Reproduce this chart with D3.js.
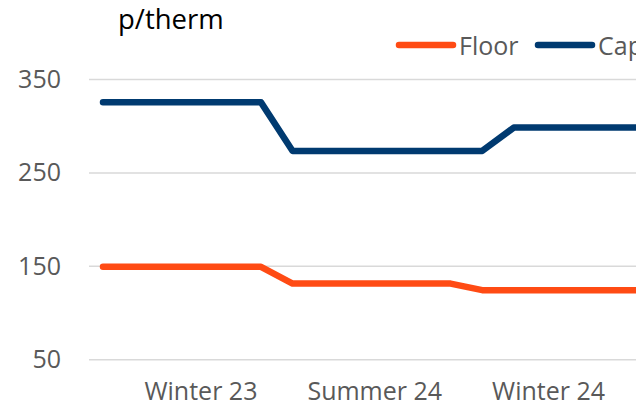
<!DOCTYPE html>
<html>
<head>
<meta charset="utf-8">
<script src="https://cdn.jsdelivr.net/npm/d3@7"></script>
<style>
  body { margin: 0; background: #fff; }
  text { font-family: "Open Sans", "Liberation Sans", sans-serif; fill: #595959; }
  .grid line { stroke: #d9d9d9; stroke-width: 1.5; }
  .grid path { display: none; }
</style>
</head>
<body>
<script>
// periods (one point per month, starting Oct 23)
var periods = d3.range(18);
var capValues   = [325,325,325,325,325,325,273,273,273,273,273,273,273,298,298,298,298,298];
var floorValues = [149,149,149,149,149,149,131,131,131,131,131,131,124,124,124,124,124,124];
var xLabels = ["Winter 23", "Summer 24", "Winter 24"];
var xLabelAt = [3.1, 8.6, 14.1];
var yTicks = [50, 150, 250, 350];

var width = 636,
    height = 407;

var svg = d3.select("body")
    .append("svg")
    .attr("width", width)
    .attr("height", height);

var x = d3.scaleLinear()
    .domain([0, 17])
    .range([103, 103 + 31.6 * 17]);

var y = d3.scaleLinear()
    .domain([50, 350])
    .range([359.3, 79]);

// gridlines
var grid = svg.append("g")
    .attr("class", "grid")
    .attr("transform", "translate(89,0)")
    .call(d3.axisLeft(y).tickValues(yTicks).tickSize(-(width - 89)).tickFormat(""));

// y labels
svg.selectAll(".ylab")
    .data(yTicks)
    .enter()
    .append("text")
    .attr("class", "ylab")
    .attr("x", 61)
    .attr("y", function(d){ return y(d) + 9; })
    .attr("text-anchor", "end")
    .style("font-size", "25px")
    .text(function(d){ return d; });

// x labels (kept just inside the bottom edge)
svg.selectAll(".xlab")
    .data(xLabels)
    .enter()
    .append("text")
    .attr("class", "xlab")
    .attr("x", function(d, i){ return x(xLabelAt[i]); })
    .attr("y", 400)
    .attr("text-anchor", "middle")
    .style("font-size", "25px")
    .text(function(d){ return d; });

// unit label
svg.append("text")
    .attr("x", 118)
    .attr("y", 29)
    .style("font-size", "27.5px")
    .style("fill", "#000")
    .text("p/therm");

var line = d3.line()
    .x(function(d, i){ return x(periods[i]); })
    .y(function(d){ return y(d); });

var series = [
    {name: "Floor", values: floorValues, color: "#ff4b14"},
    {name: "Cap", values: capValues, color: "#003a70"}
];

svg.selectAll(".series")
    .data(series)
    .enter()
    .append("path")
    .attr("class", "series")
    .attr("d", function(d){ return line(d.values); })
    .attr("fill", "none")
    .attr("stroke", function(d){ return d.color; })
    .attr("stroke-width", 6.5)
    .attr("stroke-linecap", "round")
    .attr("stroke-linejoin", "round");

// legend
var legendX = [399, 538];
var legend = svg.selectAll(".legend")
    .data(series)
    .enter()
    .append("g")
    .attr("class", "legend")
    .attr("transform", function(d, i){ return "translate(" + legendX[i] + ",45)"; });

legend.append("line")
    .attr("x1", 0)
    .attr("x2", 54)
    .attr("stroke", function(d){ return d.color; })
    .attr("stroke-width", 6.5)
    .attr("stroke-linecap", "round");

legend.append("text")
    .attr("x", 60)
    .attr("y", 10)
    .style("font-size", "25px")
    .text(function(d){ return d.name; });
</script>
</body>
</html>
